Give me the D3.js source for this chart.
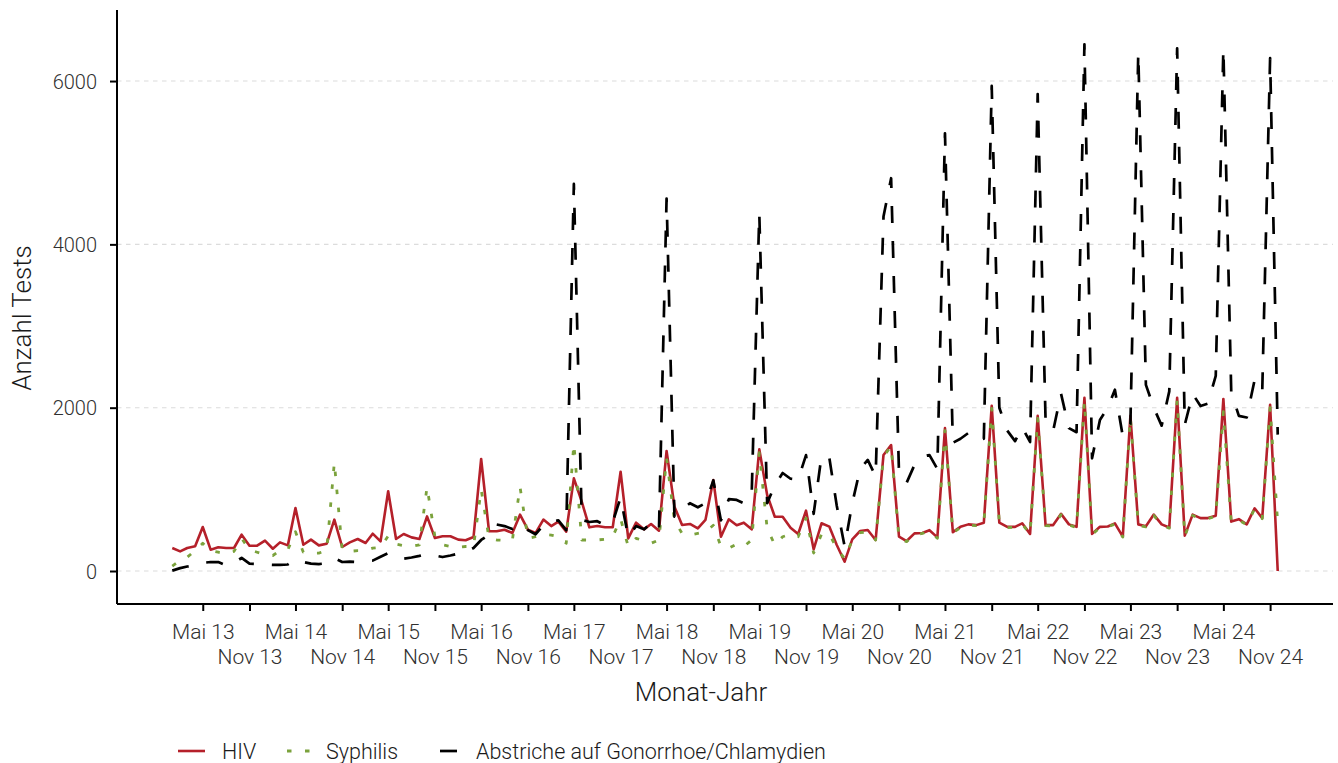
<!DOCTYPE html>
<html><head><meta charset="utf-8">
<script src="https://cdn.jsdelivr.net/npm/d3@7"></script>
<style>
body{margin:0;background:#fff}
svg text{font-family:Roboto, "Open Sans", sans-serif;font-weight:300}
</style>
</head><body>
<svg id="c" width="1338" height="763"></svg>
<script>
// monthly values, Jan 2013 .. Dec 2024
const hiv = [
282,241,282,302,539,261,290,282,282,445,310,310,
371,273,351,314,771,322,384,314,335,629,294,351,
392,343,457,363,976,392,453,412,392,669,404,425,
425,384,376,416,1372,486,486,506,465,690,506,465,
630,550,604,482,1135,849,535,551,535,535,1216,400,
592,510,576,494,1470,788,563,576,522,625,1114,420,
633,560,592,510,1490,931,665,665,531,453,739,265,
584,543,318,114,388,490,502,380,1421,1543,420,367,
461,465,500,412,1751,476,541,571,562,592,2022,592,
541,541,584,455,1901,562,562,700,571,541,2120,455,
541,545,584,421,1901,571,549,691,571,532,2120,433,
691,648,648,678,2107,605,635,571,768,648,2034,0
];
const syphilis = [
60,130,170,250,340,250,230,210,240,400,260,230,
200,190,250,260,480,230,220,220,250,1330,260,240,
250,250,280,290,430,330,310,300,320,1030,420,320,
300,290,300,300,1000,400,380,375,380,1030,400,420,
450,440,420,340,1560,380,380,380,390,420,640,300,
400,370,340,380,1380,620,460,440,460,480,560,300,
280,330,300,380,1450,520,320,420,450,420,650,220,
450,450,280,150,380,470,480,380,1400,1530,390,360,
440,460,490,400,1720,470,530,560,555,580,1990,585,
530,535,575,450,1870,555,550,690,565,530,2080,445,
530,540,575,415,1880,560,540,680,560,525,2090,425,
680,640,640,670,1950,595,625,565,760,640,2000,580
];
const abstriche = [
5,35,55,70,100,110,110,70,100,160,90,85,
80,75,75,80,140,110,90,85,95,160,110,115,
110,120,127,175,220,180,150,165,185,208,190,171,
190,212,230,282,380,445,570,550,515,580,500,450,
560,600,620,500,4740,625,600,610,560,600,900,420,
550,510,584,502,4560,665,750,830,780,830,1110,620,
880,870,830,930,4380,830,1050,1200,1130,1120,1420,700,
1410,1380,800,300,830,1250,1360,1160,4340,4810,1200,1080,
1300,1400,1420,1250,5360,1570,1620,1690,1600,1620,5940,2000,
1720,1590,1760,1580,5840,1850,1720,2170,1750,1700,6450,1380,
1850,2000,2220,1650,1800,6350,2280,2000,1780,2200,6400,1790,
2170,2020,2050,2390,6400,2190,1900,1880,2340,2200,6280,1670
];
const seriesNames = ["HIV", "Syphilis", "Abstriche auf Gonorrhoe/Chlamydien"];
const yTicks = [0, 2000, 4000, 6000];
const xTickLabels = [
"Mai 13","Nov 13","Mai 14","Nov 14","Mai 15","Nov 15","Mai 16","Nov 16",
"Mai 17","Nov 17","Mai 18","Nov 18","Mai 19","Nov 19","Mai 20","Nov 20",
"Mai 21","Nov 21","Mai 22","Nov 22","Mai 23","Nov 23","Mai 24","Nov 24"
];
const xTitle = "Monat-Jahr";
const yTitle = "Anzahl Tests";

const dates = d3.utcMonth.range(new Date(Date.UTC(2013,0,1)), new Date(Date.UTC(2025,0,1)));
const tickDates = d3.utcMonth.range(new Date(Date.UTC(2013,4,1)), new Date(Date.UTC(2024,11,2)), 6);

const svg = d3.select("#c");
const L = 117, R = 1333, T = 10, B = 604;
const t0 = +dates[0], t1 = +dates[dates.length-1], span = t1 - t0;
const x = d3.scaleUtc().domain([t0 - 0.05*span, t1 + 0.05*span]).range([L, R]);
const y = d3.scaleLinear().domain([-404, 6870]).range([B, T]);

// grid
svg.append("g").selectAll("line").data(yTicks).join("line")
  .attr("x1", L).attr("x2", R).attr("y1", d=>y(d)).attr("y2", d=>y(d))
  .attr("stroke", "#dcdcdc").attr("stroke-width", 1.1).attr("stroke-dasharray", "4.5,4.5");

const styles = [
  {data: hiv, color: "#b5202a", dash: null, w: 2.6},
  {data: syphilis, color: "#7ba23c", dash: "4.5,13.5", w: 2.8},
  {data: abstriche, color: "#000000", dash: "17,18", w: 2.7}
];
const line = d3.line().x((d,i)=>x(dates[i])).y(d=>y(d));
styles.forEach(s => {
  svg.append("path").datum(s.data).attr("d", line)
    .attr("fill", "none").attr("stroke", s.color).attr("stroke-width", s.w)
    .attr("stroke-linejoin", "round")
    .attr("stroke-dasharray", s.dash);
});

// axes
const yAxis = svg.append("g").attr("transform", `translate(${L},0)`)
  .call(d3.axisLeft(y).tickValues(yTicks).tickSize(7).tickSizeOuter(0).tickPadding(13).tickFormat(d3.format("d")));
const xAxis = svg.append("g").attr("transform", `translate(0,${B})`)
  .call(d3.axisBottom(x).tickValues(tickDates).tickSize(7).tickSizeOuter(0).tickPadding(0).tickFormat((d,i)=>xTickLabels[i]));
[yAxis, xAxis].forEach(a => {
  a.select(".domain").attr("stroke", "#000").attr("stroke-width", 2);
  a.selectAll(".tick line").attr("stroke", "#000").attr("stroke-width", 2);
  a.selectAll(".tick text").attr("fill", "#303030").style("font-family", "Roboto").style("font-weight", 300);
});
yAxis.selectAll(".tick text").style("font-size", "20px").attr("dy", "0.35em");
xAxis.selectAll(".tick text").style("font-size", "21px").attr("dy", null).attr("y", (d,i)=> i % 2 === 0 ? 35 : 60);
yAxis.select(".domain").attr("d", `M0,${T}V${B}`);
xAxis.select(".domain").attr("d", `M${L},0H${R}`);

// titles
svg.append("text").attr("x", 701).attr("y", 701).attr("text-anchor", "middle")
  .attr("fill", "#1a1a1a").style("font-size", "26px").text(xTitle);
svg.append("text").attr("transform", "translate(31,318) rotate(-90)").attr("text-anchor", "middle")
  .attr("fill", "#1a1a1a").style("font-size", "26px").text(yTitle);

// legend
const leg = [
  {x0: 178, tx: 222},
  {x0: 287, tx: 326},
  {x0: 440, tx: 476}
];
leg.forEach((g, i) => {
  const s = styles[i];
  svg.append("line").attr("x1", g.x0).attr("x2", g.x0 + 27).attr("y1", 751).attr("y2", 751)
    .attr("stroke", s.color).attr("stroke-width", s.w).attr("stroke-dasharray", s.dash);
  svg.append("text").attr("x", g.tx).attr("y", 751).attr("dy", "0.35em")
    .attr("fill", "#1a1a1a").style("font-size", "21.5px").text(seriesNames[i]);
});
</script>
</body></html>
